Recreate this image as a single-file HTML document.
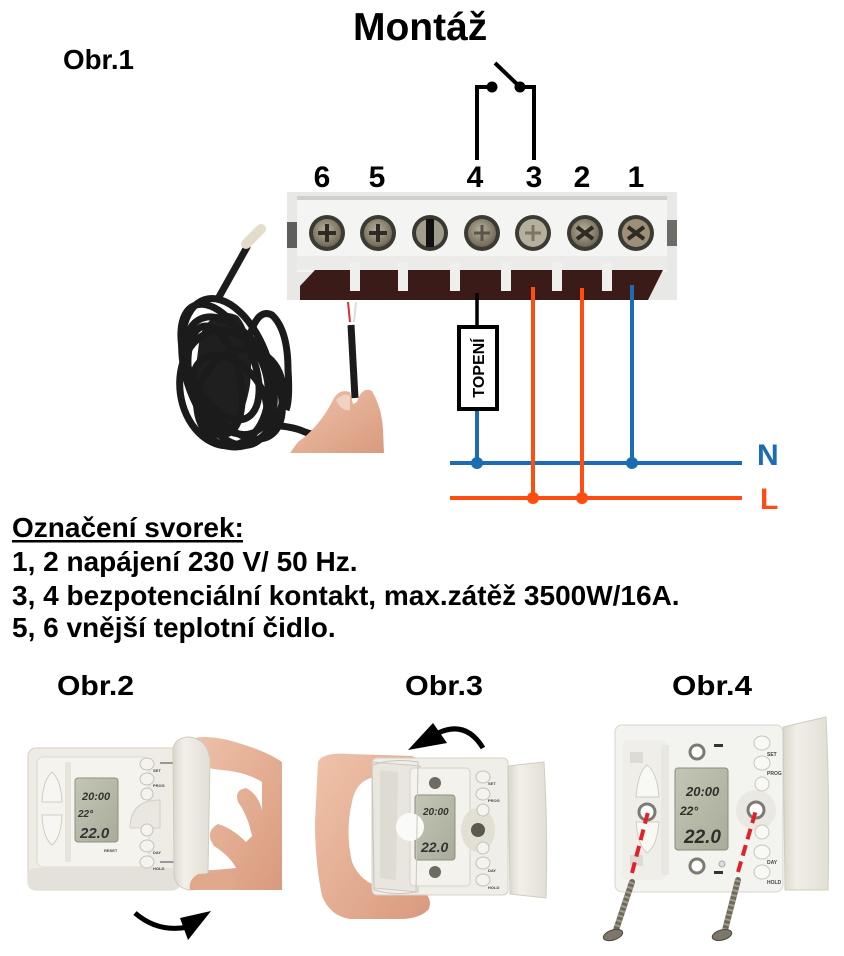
<!DOCTYPE html>
<html>
<head>
<meta charset="utf-8">
<style>
html,body{margin:0;padding:0;background:#fff;}
svg{display:block;}
text{font-family:"Liberation Sans",Arial,sans-serif;}
</style>
</head>
<body>
<svg width="844" height="956" viewBox="0 0 844 956" xmlns="http://www.w3.org/2000/svg">
<defs>
  <radialGradient id="scr" cx="45%" cy="40%" r="60%">
    <stop offset="0" stop-color="#b7b09c"/>
    <stop offset="1" stop-color="#6f6856"/>
  </radialGradient>
  <linearGradient id="flap" x1="0" x2="1" y1="0" y2="0">
    <stop offset="0" stop-color="#d9d6cb"/>
    <stop offset="0.3" stop-color="#f1efe8"/>
    <stop offset="1" stop-color="#e2dfd5"/>
  </linearGradient>
  <linearGradient id="skin" x1="0" x2="1" y1="0" y2="1">
    <stop offset="0" stop-color="#efc3aa"/>
    <stop offset="1" stop-color="#d99a7e"/>
  </linearGradient>
  <linearGradient id="lcd" x1="0" x2="1" y1="0" y2="1">
    <stop offset="0" stop-color="#c4c6b5"/>
    <stop offset="1" stop-color="#a9ac9a"/>
  </linearGradient>
</defs>

<!-- Titles -->
<text x="353" y="40" font-size="39" font-weight="bold" fill="#000">Montáž</text>
<text x="63" y="69" font-size="28" font-weight="bold" fill="#000" textLength="71" lengthAdjust="spacingAndGlyphs">Obr.1</text>

<!-- Switch -->
<g stroke="#000" stroke-width="4" fill="none">
  <polyline points="477,160 477,87 492,87"/>
  <polyline points="534,160 534,87 520,87"/>
  <line x1="520" y1="87" x2="495" y2="63"/>
</g>
<circle cx="492" cy="87" r="5.5" fill="#000"/>
<circle cx="520" cy="87" r="5.5" fill="#000"/>

<!-- Terminal numbers -->
<g font-size="30" font-weight="bold" fill="#000" text-anchor="middle">
  <text x="322" y="187">6</text>
  <text x="377" y="187">5</text>
  <text x="475" y="187">4</text>
  <text x="534" y="187">3</text>
  <text x="582" y="187">2</text>
  <text x="636" y="187">1</text>
</g>

<!-- Terminal block photo -->
<rect x="287" y="192" width="390" height="108" fill="#e8e8e6"/>
<rect x="297" y="197" width="370" height="75" fill="#f4f4f2"/>
<rect x="297" y="196" width="370" height="4" fill="#cfcfcb"/>
<rect x="297" y="256" width="370" height="14" fill="#ebebe9"/>
<rect x="287" y="222" width="10" height="26" fill="#5f5e5a"/>
<rect x="667" y="220" width="10" height="26" fill="#6d6c68"/>
<polygon points="315,270 663,270 648,300 300,300 300,286" fill="#3a1b17"/>
<g fill="#efefed">
  <rect x="350" y="262" width="10" height="29"/>
  <rect x="398" y="262" width="10" height="29"/>
  <rect x="450" y="262" width="10" height="29"/>
  <rect x="501" y="262" width="10" height="29"/>
  <rect x="552" y="262" width="10" height="29"/>
  <rect x="602" y="262" width="10" height="29"/>
</g>
<!-- screws -->
<g>
  <circle cx="327" cy="233" r="18" fill="#3b3a33"/><circle cx="327" cy="233" r="14" fill="url(#scr)"/>
  <path d="M318,233 H336 M327,224 V242" stroke="#2e2b25" stroke-width="4"/>
  <circle cx="378" cy="233" r="18" fill="#3b3a33"/><circle cx="378" cy="233" r="14" fill="url(#scr)"/>
  <path d="M369,233 H387 M378,224 V242" stroke="#2e2b25" stroke-width="4"/>
  <circle cx="430" cy="233" r="18" fill="#3a3832"/><circle cx="430" cy="233" r="14" fill="#a29c8a"/>
  <rect x="426" y="219" width="8" height="28" fill="#111"/>
  <circle cx="482" cy="233" r="18" fill="#3b3a33"/><circle cx="482" cy="233" r="14" fill="url(#scr)"/>
  <path d="M474,233 H490 M482,225 V241" stroke="#5a5448" stroke-width="3"/>
  <circle cx="533" cy="233" r="18" fill="#3b3a33"/><circle cx="533" cy="233" r="14" fill="#b5af9d"/>
  <path d="M525,233 H541 M533,225 V241" stroke="#7a7464" stroke-width="3"/>
  <circle cx="585" cy="233" r="18" fill="#3b3a33"/><circle cx="585" cy="233" r="14" fill="url(#scr)"/>
  <path d="M577,227 L593,239 M593,227 L577,239" stroke="#2e2b25" stroke-width="4"/>
  <circle cx="636" cy="233" r="18" fill="#3b3a33"/><circle cx="636" cy="233" r="14" fill="#9d8f78"/>
  <path d="M628,227 L644,239 M644,227 L628,239" stroke="#2e2b25" stroke-width="4"/>
</g>

<!-- Wiring -->
<line x1="477" y1="293" x2="477" y2="326" stroke="#000" stroke-width="3.5"/>
<rect x="459" y="327" width="38" height="82" fill="#fff" stroke="#000" stroke-width="4"/>
<text x="0" y="0" font-size="16" font-weight="bold" fill="#000" text-anchor="middle" transform="translate(484,368) rotate(-90)">TOPENÍ</text>
<line x1="477" y1="411" x2="477" y2="463" stroke="#1a6cb4" stroke-width="4"/>
<line x1="632" y1="285" x2="632" y2="463" stroke="#1a6cb4" stroke-width="4"/>
<line x1="450" y1="463" x2="742" y2="463" stroke="#1a6cb4" stroke-width="4"/>
<line x1="533" y1="287" x2="533" y2="498" stroke="#ff4d12" stroke-width="4"/>
<line x1="582" y1="288" x2="582" y2="498" stroke="#ff4d12" stroke-width="4"/>
<line x1="450" y1="498" x2="742" y2="498" stroke="#ff4d12" stroke-width="4"/>
<circle cx="477" cy="463" r="6" fill="#1a6cb4"/>
<circle cx="632" cy="463" r="6" fill="#1a6cb4"/>
<circle cx="533" cy="498" r="6" fill="#ff4d12"/>
<circle cx="582" cy="498" r="6" fill="#ff4d12"/>
<text x="757" y="465" font-size="30" font-weight="bold" fill="#1a6cb4">N</text>
<text x="760" y="509" font-size="30" font-weight="bold" fill="#ff4d12">L</text>

<!-- Sensor with cable -->
<line x1="219" y1="297" x2="247" y2="247" stroke="#1c1c1c" stroke-width="7" stroke-linecap="round"/>
<line x1="246" y1="244" x2="261" y2="229" stroke="#e4dccb" stroke-width="10" stroke-linecap="round"/>
<path d="M200,335 Q215,305 238,316 Q255,335 250,385 Q242,430 222,438 Q196,440 192,398 Z" fill="#1f1f1f"/>
<g fill="none" stroke="#1b1b1b" stroke-width="7">
  <ellipse cx="228" cy="372" rx="42" ry="76" transform="rotate(-18 228 372)"/>
  <ellipse cx="234" cy="378" rx="38" ry="68" transform="rotate(-32 234 378)"/>
  <ellipse cx="224" cy="388" rx="44" ry="58" transform="rotate(-8 224 388)"/>
  <ellipse cx="240" cy="398" rx="42" ry="50" transform="rotate(22 240 398)"/>
  <ellipse cx="220" cy="362" rx="32" ry="62" transform="rotate(-25 220 362)"/>
  <ellipse cx="230" cy="395" rx="30" ry="45" transform="rotate(-40 230 395)"/>
  <ellipse cx="215" cy="380" rx="25" ry="55" transform="rotate(-12 215 380)"/>
  <path d="M250,335 Q258,308 272,315 Q288,330 288,370 Q290,400 286,410"/>
  <path d="M262,425 Q290,425 305,432 Q320,438 335,428"/>
  <path d="M355,398 L351,325"/>
</g>
<line x1="350" y1="322" x2="348" y2="302" stroke="#d8312a" stroke-width="2"/>
<line x1="354" y1="322" x2="356" y2="302" stroke="#ddd" stroke-width="2"/>
<path d="M290,453 L298,442 Q318,428 332,402 Q338,388 350,392 L353,404 L357,402 Q362,386 372,391 Q382,408 383,430 L384,453 Z" fill="url(#skin)"/>
<path d="M336,400 Q344,392 350,396 L350,410 Q342,412 336,400 Z" fill="#f1d2c0"/>

<!-- Text block -->
<g font-size="28" font-weight="bold" fill="#000">
  <text x="12" y="537">Označení svorek:</text>
  <text x="12" y="571">1, 2 napájení 230 V/ 50 Hz.</text>
  <text x="12" y="605">3, 4 bezpotenciální kontakt, max.zátěž 3500W/16A.</text>
  <text x="12" y="637">5, 6 vnější teplotní čidlo.</text>
</g>
<rect x="12" y="540" width="231" height="2.5" fill="#000"/>

<!-- Bottom titles -->
<g font-size="28" font-weight="bold" fill="#000">
  <text x="57" y="695" textLength="77" lengthAdjust="spacingAndGlyphs">Obr.2</text>
  <text x="405" y="695" textLength="78" lengthAdjust="spacingAndGlyphs">Obr.3</text>
  <text x="672" y="695" textLength="80" lengthAdjust="spacingAndGlyphs">Obr.4</text>
</g>

<!-- ===== Obr.2 ===== -->
<path d="M185,742 Q198,733 228,740 Q265,750 282,762 L282,890 L202,890 Q188,888 190,878 Q196,870 214,870 L236,868 Q230,856 214,846 Q204,832 218,824 Q232,828 246,842 L252,836 Q248,816 238,802 Q234,790 246,788 Q258,794 262,810 L262,782 Q246,772 222,770 Q200,768 190,760 Z" fill="url(#skin)"/>
<rect x="28" y="748" width="152" height="142" rx="8" fill="#eeece5" stroke="#d3d0c5"/>
<rect x="28" y="868" width="152" height="22" rx="6" fill="#e3e1d9"/>
<rect x="37" y="757" width="112" height="110" rx="6" fill="#f4f3ee" stroke="#dcd9cf"/>
<path d="M42,802 Q43,780 52,772 Q61,780 62,802 Z" fill="#f7f6f2" stroke="#cfccc0"/>
<path d="M42,815 Q43,838 52,845 Q61,838 62,815 Z" fill="#f7f6f2" stroke="#cfccc0"/>
<rect x="65" y="762" width="6" height="100" fill="#e6e4dc"/>
<rect x="75" y="778" width="43" height="64" rx="3" fill="url(#lcd)" stroke="#8f917f"/>
<g fill="#333" font-style="italic" font-weight="bold">
  <text x="82" y="800" font-size="11">20:00</text>
  <text x="78" y="817" font-size="10">22°</text>
  <text x="80" y="838" font-size="15">22.0</text>
</g>
<path d="M130,828 Q130,800 160,800 L160,828 Z" fill="#e9e7df" stroke="#d3d0c5"/>
<g fill="#f4f3ee" stroke="#c5c2b6">
  <ellipse cx="147" cy="764" rx="7" ry="6"/>
  <ellipse cx="147" cy="779" rx="7" ry="6"/>
  <ellipse cx="147" cy="794" rx="6" ry="6"/>
  <ellipse cx="147" cy="830" rx="6" ry="6"/>
  <ellipse cx="147" cy="846" rx="7" ry="6"/>
  <ellipse cx="147" cy="862" rx="7" ry="6"/>
</g>
<g font-size="4" fill="#444" font-weight="bold">
  <text x="153" y="772">SET</text><text x="153" y="787">PROG</text>
  <text x="153" y="854">DAY</text><text x="153" y="870">HOLD</text>
</g>
<text x="104" y="852" font-size="4" fill="#444" font-weight="bold">RESET</text>
<line x1="160" y1="763" x2="178" y2="763" stroke="#999" stroke-width="2"/>
<line x1="160" y1="862" x2="178" y2="862" stroke="#999" stroke-width="2"/>
<path d="M173,748 Q176,737 190,737 Q208,740 210,760 L208,872 Q205,890 190,890 Q175,888 174,875 Z" fill="url(#flap)" stroke="#cfccc0"/>
<path d="M190,890 Q188,880 198,874 L225,872 Q238,876 236,886 L230,890 Z" fill="#e0a98d"/>
<path d="M135,913 Q158,933 188,927" fill="none" stroke="#000" stroke-width="5"/>
<polygon points="211,911 180,918 188,940" fill="#000"/>

<!-- ===== Obr.3 ===== -->
<path d="M318,762 Q322,752 350,754 L412,756 Q422,760 420,770 Q414,777 396,777 L375,777 Q356,780 352,802 Q345,832 352,862 Q360,882 382,888 L420,890 Q433,896 429,909 Q420,919 400,919 L350,919 Q330,916 322,896 Q315,862 315,822 Z" fill="url(#skin)"/>
<rect x="372" y="758" width="136" height="137" rx="5" fill="#efeee8" stroke="#d4d1c6"/>
<path d="M372,762 L420,766 L418,892 L374,888 Z" fill="#e8e6df" stroke="#cdcac0"/>
<path d="M380,770 L398,772 L396,880 L380,878 Z" fill="#dedbd2"/>
<rect x="410" y="768" width="60" height="118" rx="4" fill="#f3f2ed" stroke="#d6d3c9"/>
<rect x="415" y="795" width="40" height="65" rx="3" fill="url(#lcd)" stroke="#8f917f"/>
<g fill="#333" font-style="italic" font-weight="bold">
  <text x="423" y="815" font-size="10">20:00</text>
  <text x="421" y="852" font-size="14">22.0</text>
</g>
<circle cx="410" cy="827" r="14" fill="#fafaf8"/>
<path d="M372,765 Q395,758 418,762 L416,892 Q395,896 374,890 Z" fill="none" stroke="#c9c6bb"/>
<circle cx="435" cy="783" r="6" fill="#6e6b62"/>
<circle cx="435" cy="872" r="6" fill="#6e6b62"/>
<ellipse cx="478" cy="830" rx="17" ry="22" fill="#e2dfd5"/>
<circle cx="478" cy="830" r="7" fill="#5b5850"/>
<g fill="#f4f3ee" stroke="#c5c2b6">
  <ellipse cx="483" cy="777" rx="7" ry="6"/>
  <ellipse cx="483" cy="794" rx="7" ry="6"/>
  <ellipse cx="483" cy="810" rx="6" ry="6"/>
  <ellipse cx="483" cy="848" rx="6" ry="6"/>
  <ellipse cx="483" cy="863" rx="7" ry="6"/>
  <ellipse cx="483" cy="880" rx="7" ry="6"/>
</g>
<g font-size="4" fill="#444" font-weight="bold">
  <text x="488" y="785">SET</text><text x="488" y="802">PROG</text>
  <text x="488" y="872">DAY</text><text x="488" y="889">HOLD</text>
</g>
<path d="M508,766 L544,762 Q548,830 546,898 L510,894 Z" fill="url(#flap)" stroke="#cfccc0"/>
<path d="M438,733 Q466,720 483,748" fill="none" stroke="#000" stroke-width="5"/>
<polygon points="408,750 433,723 447,743" fill="#000"/>

<!-- ===== Obr.4 ===== -->
<rect x="615" y="725" width="168" height="167" rx="7" fill="#f3f3ef" stroke="#d8d6ce"/>
<rect x="622" y="740" width="45" height="140" rx="6" fill="#efeee9"/>
<rect x="630" y="752" width="13" height="11" fill="#dcdbd4"/>
<rect x="630" y="855" width="13" height="11" fill="#dcdbd4"/>
<path d="M636,797 Q638,772 647,765 Q657,772 659,797 Z" fill="#f8f8f5" stroke="#cfcdc3"/>
<path d="M636,822 Q638,846 647,853 Q657,846 659,822 Z" fill="#f8f8f5" stroke="#cfcdc3"/>
<circle cx="647" cy="812" r="8" fill="#fff" stroke="#7d7a70" stroke-width="3"/>
<rect x="661" y="745" width="8" height="130" fill="#e8e7e1"/>
<rect x="675" y="768" width="53" height="82" rx="3" fill="url(#lcd)" stroke="#8a8c7b"/>
<g fill="#2e2e2a" font-style="italic" font-weight="bold">
  <text x="686" y="796" font-size="13">20:00</text>
  <text x="680" y="815" font-size="12">22°</text>
  <text x="684" y="843" font-size="19">22.0</text>
</g>
<circle cx="697" cy="752" r="7" fill="#fff" stroke="#7d7a70" stroke-width="3"/>
<circle cx="697" cy="866" r="7" fill="#fff" stroke="#7d7a70" stroke-width="3"/>
<rect x="714" y="744" width="9" height="3" fill="#333"/>
<rect x="714" y="871" width="9" height="3" fill="#333"/>
<circle cx="722" cy="864" r="3" fill="#ddd" stroke="#aaa"/>
<ellipse cx="756" cy="810" rx="20" ry="20" fill="#e9e8e2"/>
<circle cx="756" cy="810" r="8" fill="#fff" stroke="#7d7a70" stroke-width="3"/>
<g fill="#f8f8f5" stroke="#c8c6bb">
  <ellipse cx="762" cy="743" rx="8" ry="7"/>
  <ellipse cx="762" cy="763" rx="8" ry="7"/>
  <ellipse cx="762" cy="784" rx="7" ry="7"/>
  <ellipse cx="762" cy="832" rx="7" ry="7"/>
  <ellipse cx="762" cy="852" rx="8" ry="7"/>
  <ellipse cx="762" cy="872" rx="8" ry="7"/>
</g>
<g font-size="5" fill="#444" font-weight="bold">
  <text x="767" y="756">SET</text><text x="767" y="775">PROG</text>
  <text x="767" y="864">DAY</text><text x="767" y="884">HOLD</text>
</g>
<path d="M783,727 L826,717 Q830,800 828,890 L785,890 Z" fill="url(#flap)" stroke="#cfccc0"/>
<line x1="632" y1="873" x2="648" y2="812" stroke="#e0222a" stroke-width="4" stroke-dasharray="11,6"/>
<line x1="738" y1="872" x2="756" y2="810" stroke="#e0222a" stroke-width="4" stroke-dasharray="11,6"/>
<g>
  <line x1="632" y1="882" x2="616" y2="930" stroke="#6e6a5e" stroke-width="6" stroke-linecap="round"/>
  <line x1="632" y1="882" x2="616" y2="930" stroke="#a19c8c" stroke-width="6" stroke-dasharray="2,3"/>
  <ellipse cx="613" cy="935" rx="10" ry="5" transform="rotate(-18 613 935)" fill="#7c776a" stroke="#4a473f"/>
  <line x1="738" y1="880" x2="725" y2="930" stroke="#6e6a5e" stroke-width="6" stroke-linecap="round"/>
  <line x1="738" y1="880" x2="725" y2="930" stroke="#a19c8c" stroke-width="6" stroke-dasharray="2,3"/>
  <ellipse cx="722" cy="935" rx="10" ry="5" transform="rotate(-15 722 935)" fill="#7c776a" stroke="#4a473f"/>
</g>
</svg>
</body>
</html>
